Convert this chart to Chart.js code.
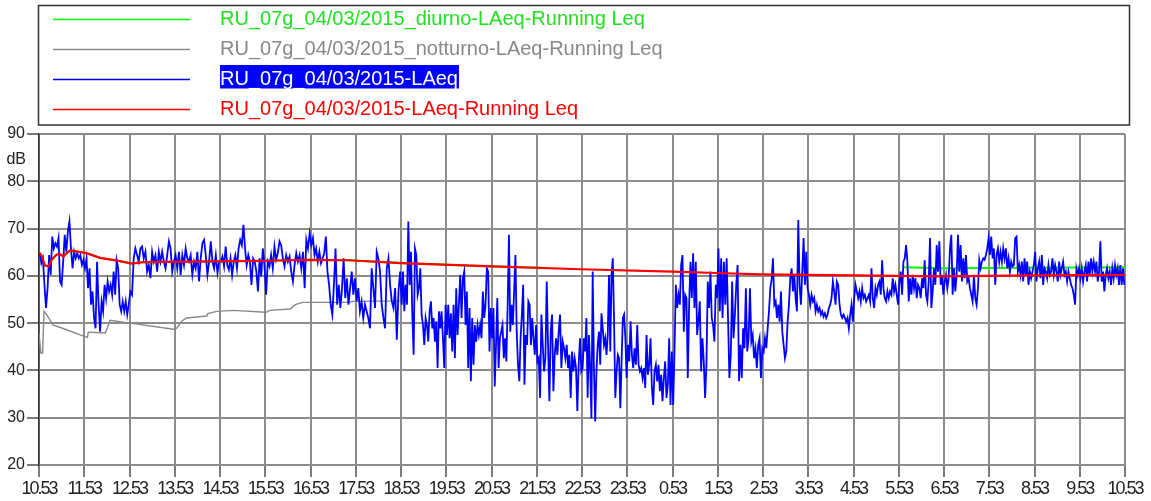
<!DOCTYPE html>
<html>
<head>
<meta charset="utf-8">
<script src="https://cdn.jsdelivr.net/npm/chart.js@4.4.0/dist/chart.umd.min.js"></script>
<style>
  html, body { margin: 0; padding: 0; background: #ffffff; }
  #wrap { width: 1151px; height: 501px; }
</style>
</head>
<body>
<div id="wrap"><canvas id="chart" width="1151" height="501"></canvas></div>
<script>
// Clock labels of the hourly grid (24 h survey starting at 10:53)
const timeLabels = ['10.53','11.53','12.53','13.53','14.53','15.53','16.53','17.53','18.53','19.53',
  '20.53','21.53','22.53','23.53','0.53','1.53','2.53','3.53','4.53','5.53','6.53','7.53','8.53','9.53','10.53'];

// LAeq samples in dB, one list per hour after the start (samples spread evenly across the hour)
const laeq00 = [64.8,62.7,63.7,58.0,53.2,57.4,64.4,60.2,68.3,65.8,66.9,66.2,68.0,58.8,58.1,63.0,68.7,65.1,69.4,71.5,65.8,61.6,65.1,63.7,64.8,63.7,64.4,62.3,63.4];
const laeq01 = [61.6,63.7,57.4,61.6,53.9,56.7,51.1,48.9,63.0,53.9,48.2,54.6,52.5,58.1,55.3,58.8,56.7,58.1,56.0,60.9,56.0,63.3,61.6,53.9,52.5,54.6,52.5,54.6,51.8,53.9];
const laeq02 = [56.7,56.0,63.7,65.8,64.4,63.0,65.8,66.2,63.7,65.1,60.9,62.3,59.5,65.1,63.0,64.4,60.9,65.1,63.0,65.1,63.0,61.6,64.4,67.3,65.8,60.9,63.0];
const laeq03 = [64.4,61.6,65.1,60.2,64.4,62.3,65.8,63.7,63.0,64.4,60.2,63.0,61.6,65.1,58.8,63.7,66.9,67.6,64.4,60.2,63.0,67.3,63.0,61.6,64.4,60.6,63.0];
const laeq04 = [63.0,64.1,62.0,66.2,62.3,61.3,63.7,60.2,63.0,64.4,61.6,65.8,67.6,66.5,70.8,65.8,62.3,64.4,63.0,58.1,63.7,63.0,60.9,56.7,63.7,59.9,65.8,62.3];
const laeq05 = [56.0,63.0,62.0,64.4,61.6,66.2,63.4,64.8,67.3,66.5,63.7,62.0,64.4,63.0,64.1,60.9,58.8,62.3,64.8,63.0,64.4,61.6,65.1,57.4,67.6,65.8,69.0];
const laeq06 = [66.5,68.0,64.4,65.8,63.0,65.1,62.7,63.7,64.8,68.3,60.9,58.1,53.9,51.8,58.1,65.8,53.9,58.1,53.2,57.4,63.7,55.3,59.5,53.9,57.4,60.9,56.0,59.5];
const laeq07 = [54.6,57.4,52.5,54.6,51.1,53.9,52.5,51.1,48.9,61.6,57.4,53.2,65.1,63.7,60.9,53.9,51.1,48.9,61.6,63.7,58.1,54.6,53.2,57.4,46.5,56.7,60.9];
const laeq08 = [53.9,60.9,52.5,58.1,53.9,71.5,58.1,65.1,51.8,43.3,65.8,64.4,56.0,57.4,61.6,51.8,49.6,45.4,51.1,49.6,46.1,52.5,54.6,48.9,51.1,46.1,50.4,40.5,52.5,48.9,52.5,46.8,40.5,53.9];
const laeq09 = [47.5,53.9,46.8,52.1,44.0,53.9,42.6,57.4,47.5,53.9,60.2,51.1,59.5,60.9,49.6,56.7,40.5,53.2,37.7,51.1,41.2,49.6,46.1,49.6,47.5,49.6,46.8,56.7,51.1,53.9,61.6,60.9,44.0,53.2];
const laeq10 = [46.8,53.2,36.6,45.4,55.3,40.5,46.8,48.2,49.6,42.6,46.8,41.9,53.9,68.7,48.2,53.9,49.6,56.7,64.4,48.2,41.2,37.7,46.8,51.8,58.1,37.0,47.5,45.4,54.6,53.9,45.4,51.1,46.8,43.3,49.6];
const laeq11 = [41.9,42.6,34.2,51.8,45.4,39.8,42.6,58.8,45.4,33.5,48.2,51.8,35.6,43.3,46.8,43.3,48.2,51.8,40.5,46.1,44.7,42.6,45.4,40.5,43.3,34.2,44.0,39.8,42.6,40.5,31.4,41.2,46.8,39.8];
const laeq12 = [40.5,46.8,44.0,51.1,34.2,47.5,40.5,29.9,60.9,40.5,29.2,39.8,45.4,48.2,41.2,52.1,48.9,45.4,46.8,43.3,47.5,60.2,44.0,60.2,63.7,50.4,34.2,39.8,43.3,42.6,32.0,41.9,51.1,51.8,46.8,38.4];
const laeq13 = [45.4,41.9,50.4,43.3,40.5,44.7,41.2,49.6,41.2,39.8,40.5,38.4,40.5,36.3,47.5,39.1,41.2,46.8,36.3,32.7,39.8,41.2,37.7,41.2,35.6,39.1,33.5,38.4,41.9,34.2,37.0,46.8,32.7,44.0];
const laeq14 = [32.7,44.0,58.1,53.2,56.0,53.9,62.3,64.4,48.2,56.0,55.3,38.4,53.9,63.0,55.3,64.8,53.2,63.0,47.5,50.4,54.6,39.8,46.8,41.9,34.2,41.2,58.8,53.2,60.9,51.1,49.6,46.1,58.1,55.3];
const laeq15 = [65.8,52.5,63.7,51.1,63.0,53.9,63.7,51.1,38.4,43.3,58.8,46.8,51.8,58.1,62.3,37.7,45.4,38.4,48.9,44.7,57.4,44.0,46.8,57.4,46.1,47.5,42.6,44.7,40.5,45.4,46.8,38.4,44.7];
const laeq16 = [44.0,46.8,44.7,48.9,52.5,57.4,59.2,63.7,53.9,54.6,51.1,53.9,50.3,56.7,48.2,45.4,42.6,44.0,50.3,53.9,59.5,61.6,56.7,60.2,55.3,52.5,71.8,58.1,53.9,60.9,68.0,58.1,65.1,57.4];
const laeq17 = [56.0,53.9,56.0,54.6,55.3,52.5,53.9,52.5,53.2,51.8,52.5,51.4,52.1,51.1,51.8,53.2,53.9,55.3,58.8,56.7,53.9,58.8,58.1,53.9,51.8,51.1,51.8,51.1,50.3,51.1,48.9,51.8,53.9,50.3];
const laeq18 = [55.3,58.1,56.7,55.3,56.7,54.6,57.4,55.3,56.0,54.6,55.3,56.0,54.6,61.6,55.3,53.2,57.4,56.0,58.1,58.8,56.0,63.3,57.4,55.3,54.6,56.7,55.3,56.7,56.0,59.5,56.7,58.1,56.0,53.9];
const laeq19 = [58.8,60.9,56.0,63.0,63.7,66.5,63.0,54.6,59.5,56.0,60.2,57.4,59.5,55.3,58.1,57.4,55.3,59.5,57.4,63.3,56.0,54.6,58.8,68.0,53.2,56.7,61.6,58.1,66.5,60.9,67.3,58.1,60.2,56.0];
const laeq20 = [58.8,60.2,57.4,59.5,65.8,68.7,56.0,61.6,56.7,60.2,68.7,60.9,66.5,58.8,63.7,59.5,64.4,58.8,59.5,57.4,56.0,54.6,60.2,55.3,53.9,57.4,63.3,61.6,63.0,63.7,63.4,64.4,65.8,68.0];
const laeq21 = [64.4,68.3,63.7,65.8,58.1,64.4,65.8,63.0,65.1,63.0,65.8,63.7,65.8,61.6,63.7,60.9,63.0,62.0,62.3,68.0,68.3,60.9,62.3,60.2,63.0,58.8,63.7,60.2,63.0,58.1,60.9,59.5,60.9,62.3];
const laeq22 = [65.1,58.8,61.6,63.0,59.5,64.4,58.1,61.6,60.9,59.5,62.3,60.2,60.9,63.7,60.2,62.3,60.9,58.8,63.0,60.2,61.6,63.0,60.2,60.9,58.8,60.9,59.5,58.1,57.4,56.0,53.9,61.6,60.2,61.6];
const laeq23 = [59.5,61.6,58.8,60.9,62.3,58.8,63.0,60.2,63.7,60.9,63.0,60.9,63.0,58.8,60.9,67.3,58.8,60.9,56.7,60.2,61.6,59.5,60.9,58.1,61.6,59.5,62.3,60.2,61.6,58.1,62.3,58.1,61.6,58.1];

// Running Leq of the whole survey (hours after start, dB)
const runTimes = [0,0.06,0.13,0.21,0.28,0.39,0.46,0.54,0.61,0.69,1.05,1.35,1.79,2.05,2.3,4.3,5.0,5.97,6.85,8.0,10.03,11.98,14.0,14.96,15.96,18.0,19.93,22.0,24];
const runLeq   = [65.0,64.2,62.2,62.0,63.4,64.5,64.6,64.1,64.8,65.4,64.8,63.8,63.1,62.6,62.9,63.1,63.2,63.4,63.3,62.7,62.0,61.4,60.9,60.6,60.3,60.1,59.9,60.1,60.2];

// Day-period running Leq (06-22); null marks the night interruption
const dayTimes = [0,0.06,0.13,0.21,0.28,0.39,0.46,0.54,0.61,0.69,1.05,1.35,1.79,2.05,2.3,4.3,5.0,5.97,6.85,8.0,10.03,11.12,15.0,19.12,19.93,22.0,24];
const dayLeq   = [65.0,64.2,62.2,62.0,63.4,64.5,64.6,64.1,64.8,65.4,64.8,63.8,63.1,62.6,62.9,63.1,63.2,63.4,63.3,62.7,62.0,61.7,null,61.8,61.6,61.7,61.8];

// Night-period running Leq
const nightTimes = [0,0.04,0.08,0.11,0.17,0.31,0.61,0.91,1.07,1.09,1.46,1.50,1.57,1.94,2.97,3.04,3.15,3.26,3.71,3.73,3.93,4.29,5.02,5.10,5.55,5.66,5.83,6.85,6.93,8.0,8.07];
const nightLeq   = [47.9,43.7,43.7,52.5,51.8,49.6,48.6,47.5,47.0,48.1,47.9,48.7,50.6,50.1,48.7,48.9,50.4,51.1,51.5,52.0,52.5,52.7,52.3,52.7,53.0,53.9,54.4,54.4,54.6,54.7,54.8];

const seriesLabels = [
  'RU_07g_04/03/2015_diurno-LAeq-Running Leq',
  'RU_07g_04/03/2015_notturno-LAeq-Running Leq',
  'RU_07g_04/03/2015-LAeq',
  'RU_07g_04/03/2015-LAeq-Running Leq'
];
const unitLabel = 'dB';

const FONT = "'Liberation Sans', Arial, Helvetica, sans-serif";

const laeqHours = [laeq00,laeq01,laeq02,laeq03,laeq04,laeq05,laeq06,laeq07,laeq08,laeq09,laeq10,laeq11,
  laeq12,laeq13,laeq14,laeq15,laeq16,laeq17,laeq18,laeq19,laeq20,laeq21,laeq22,laeq23];
const laeqPoints = laeqHours.flatMap((vals, h) => vals.map((v, i) => ({ x: h + (i + 0.5) / vals.length, y: v })));
const pairs = (xs, ys) => xs.map((x, i) => ({ x: x, y: ys[i] }));

// Boxed legend above the plot, unit label and condensed time labels
const boxLegend = {
  id: 'boxLegend',
  beforeDraw(chart) {
    const ctx = chart.ctx;
    ctx.save();
    ctx.letterSpacing = '0px';
    ctx.fillStyle = '#ffffff';
    ctx.fillRect(0, 0, chart.width, chart.height);
    ctx.strokeStyle = '#333333';
    ctx.lineWidth = 1.5;
    ctx.strokeRect(38.5, 5.5, 1091, 119.5);
    ctx.font = '20px ' + FONT;
    ctx.textAlign = 'left';
    ctx.textBaseline = 'alphabetic';
    chart.data.datasets.forEach((ds, i) => {
      const y = 19.5 + i * 30;
      ctx.strokeStyle = ds.borderColor;
      ctx.lineWidth = 1.5;
      ctx.beginPath();
      ctx.moveTo(53, y);
      ctx.lineTo(190, y);
      ctx.stroke();
      if (ds.selected) {
        const w = ctx.measureText(ds.label).width;
        ctx.fillStyle = ds.borderColor;
        ctx.fillRect(220, y - 14.5, w + 1, 23.5);
        ctx.fillStyle = '#ffffff';
      } else {
        ctx.fillStyle = ds.textColor || ds.borderColor;
      }
      ctx.fillText(ds.label, 220, y + 5);
    });
    ctx.font = '16px ' + FONT;
    ctx.fillStyle = '#222222';
    ctx.textAlign = 'right';
    ctx.fillText(unitLabel, 26, 163.5);
    ctx.restore();
  },
  afterDatasetsDraw(chart) { chart.ctx.letterSpacing = '-2px'; },
  afterDraw(chart) { chart.ctx.letterSpacing = '0px'; }
};

new Chart(document.getElementById('chart'), {
  type: 'line',
  data: {
    datasets: [
      { label: seriesLabels[0], data: pairs(dayTimes, dayLeq), borderColor: '#00ff00', textColor: '#22e022', borderWidth: 2, order: 3, spanGaps: false },
      { label: seriesLabels[1], data: pairs(nightTimes, nightLeq), borderColor: '#888888', borderWidth: 1.4, order: 2 },
      { label: seriesLabels[2], data: laeqPoints, borderColor: '#0000ff', borderWidth: 1.8, order: 1, selected: true },
      { label: seriesLabels[3], data: pairs(runTimes, runLeq), borderColor: '#ff0000', borderWidth: 2.2, order: 0 }
    ]
  },
  options: {
    responsive: false,
    animation: false,
    devicePixelRatio: 1,
    layout: { padding: { top: 134, right: 26, left: 0, bottom: 0 } },
    elements: { point: { radius: 0 }, line: { tension: 0, fill: false } },
    plugins: { legend: { display: false }, tooltip: { enabled: false } },
    scales: {
      x: {
        type: 'linear', min: 0, max: 24,
        afterFit(s) { s.height = 36; },
        ticks: {
          stepSize: 1, autoSkip: false, maxRotation: 0, minRotation: 0, padding: 1, z: 1,
          color: '#222222', font: { family: FONT, size: 18 },
          callback: (v) => timeLabels[v]
        },
        grid: { color: '#8c8c8c', lineWidth: 2, tickLength: 12, tickColor: '#222222', tickWidth: 1.2 },
        border: { color: '#8c8c8c', width: 2 }
      },
      y: {
        min: 20, max: 90,
        afterFit(s) { s.width = 39; },
        ticks: { stepSize: 10, padding: 2, color: '#222222', font: { family: FONT, size: 16 } },
        grid: { color: '#8c8c8c', lineWidth: 2, tickLength: 12, tickColor: '#222222', tickWidth: 1.2 },
        border: { color: '#333333', width: 1.5 }
      }
    }
  },
  plugins: [boxLegend]
});
</script>
</body>
</html>
